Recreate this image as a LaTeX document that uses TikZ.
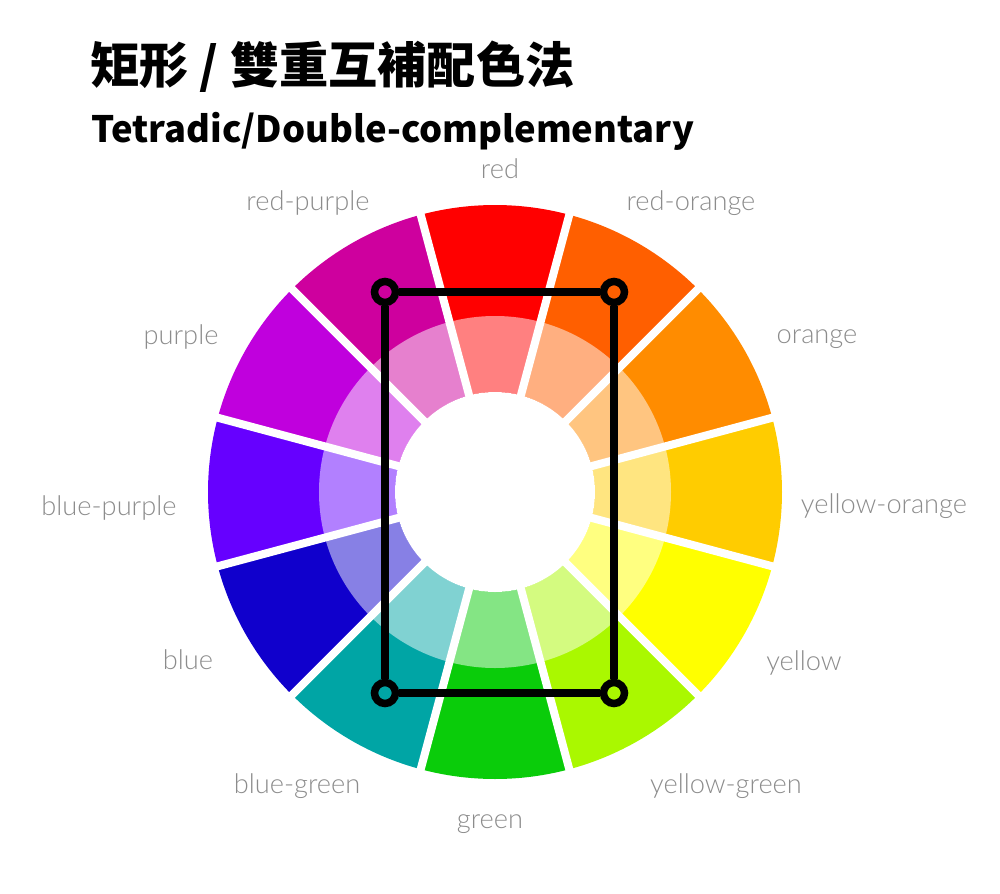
\documentclass[tikz,border=0pt]{standalone}
\usepackage{fontspec}
\setmainfont{Lato}
\newfontfamily\lblfont{Lato Light}
\newfontfamily\titlefont{Noto Sans CJK TC}
\usepackage{tikz}
\definecolor{cred}{HTML}{FF0000}
\definecolor{credorange}{HTML}{FF5F00}
\definecolor{corange}{HTML}{FF8C00}
\definecolor{cyelloworange}{HTML}{FFCC00}
\definecolor{cyellow}{HTML}{FFFF00}
\definecolor{cyellowgreen}{HTML}{AAF800}
\definecolor{cgreen}{HTML}{0ACC0A}
\definecolor{cbluegreen}{HTML}{00A5A5}
\definecolor{cblue}{HTML}{1000CC}
\definecolor{cbluepurple}{HTML}{6600FF}
\definecolor{cpurple}{HTML}{C000DD}
\definecolor{credpurple}{HTML}{CE009E}
\definecolor{lblgray}{HTML}{8C8C8C}

\begin{document}
\begin{tikzpicture}[x=0.02cm,y=0.02cm,
    every node/.style={inner sep=0pt},
    lbl/.style={text=lblgray,font=\lblfont\fontsize{15.5}{17}\selectfont,anchor=base},
    corner/.style={circle,draw=black,line width=0.15cm,minimum size=0.42cm},
    rectline/.style={line width=0.15cm}]
  \useasboundingbox (-495,-401) rectangle (505,492);

  % Titles
  \node[anchor=base west,font=\titlefont\bfseries\fontsize{28}{30}\selectfont] (title) at (-405,408) {矩形 / 雙重互補配色法};
  \node[anchor=base west,font=\titlefont\bfseries\fontsize{20.7}{24}\selectfont] (subtitle) at (-404,350) {Tetradic/Double-complementary};

  % Wheel
  \foreach \ang/\col in {90/cred,60/credorange,30/corange,0/cyelloworange,-30/cyellow,-60/cyellowgreen,
      -90/cgreen,-120/cbluegreen,-150/cblue,-180/cbluepurple,-210/cpurple,-240/credpurple}
    \fill[\col] (0,0) -- (\ang-15:287) arc[start angle=\ang-15,end angle=\ang+15,radius=287] -- cycle;
  \fill[white,opacity=0.5,even odd rule] (0,0) circle[radius=176] (0,0) circle[radius=100];
  \fill[white] (0,0) circle[radius=100];
  \foreach \ang in {15,45,...,345}
    \draw[white,line width=0.16cm] (0,0) -- (\ang:295);

  % Labels
  \node[lbl] (lred) at (5,314) {red};
  \node[lbl] (lredorange) at (196,282) {red-orange};
  \node[lbl] (lorange) at (322,149) {orange};
  \node[lbl] (lyelloworange) at (389,-21) {yellow-orange};
  \node[lbl] (lyellow) at (309,-178) {yellow};
  \node[lbl] (lyellowgreen) at (231,-301) {yellow-green};
  \node[lbl] (lgreen) at (-5,-336) {green};
  \node[lbl] (lbluegreen) at (-198,-301) {blue-green};
  \node[lbl] (lblue) at (-307,-177) {blue};
  \node[lbl] (lbluepurple) at (-386,-23) {blue-purple};
  \node[lbl] (lpurple) at (-314,148) {purple};
  \node[lbl] (lredpurple) at (-187,282) {red-purple};

  % Rectangle
  \node[corner] (tl) at (-110,200) {};
  \node[corner] (tr) at (119,200) {};
  \node[corner] (br) at (119,-201) {};
  \node[corner] (bl) at (-110,-201) {};
  \draw[rectline] (tl) -- (tr);
  \draw[rectline] (tr) -- (br);
  \draw[rectline] (br) -- (bl);
  \draw[rectline] (bl) -- (tl);
\end{tikzpicture}
\end{document}
